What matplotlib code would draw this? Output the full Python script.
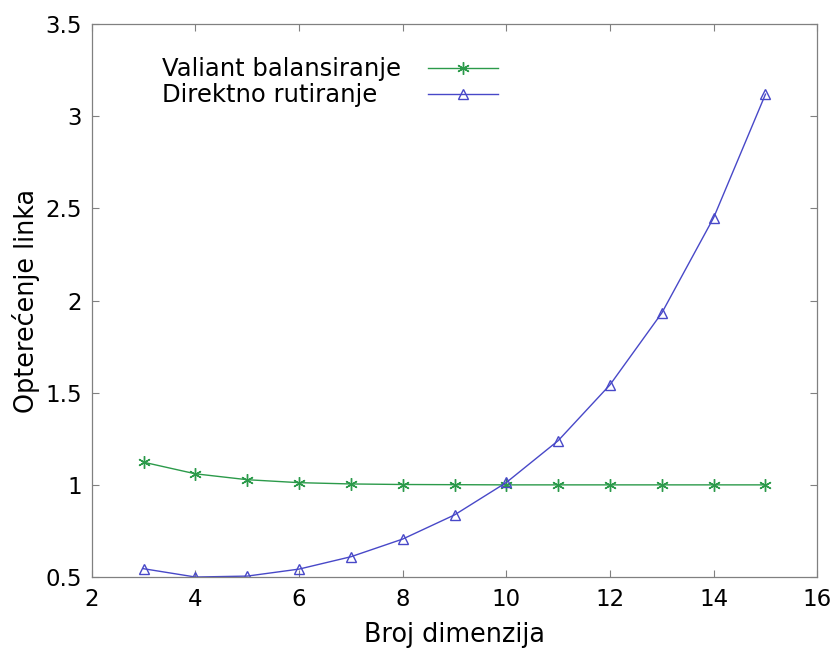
import matplotlib.pyplot as plt
from matplotlib.lines import Line2D

DIMENSIONS = [3, 4, 5, 6, 7, 8, 9, 10, 11, 12, 13, 14, 15]
VALIANT = [1.123, 1.06, 1.028, 1.012, 1.005, 1.002, 1.001, 1.0, 1.0, 1.0, 1.0, 1.0, 1.0]
DIRECT = [0.545, 0.50, 0.505, 0.543, 0.61, 0.706, 0.837, 1.013, 1.24, 1.543, 1.933, 2.45, 3.12]

LABELS = ['Valiant balansiranje', 'Direktno rutiranje']
Y_TICKS = [0.5, 1, 1.5, 2, 2.5, 3, 3.5]
Y_TICK_LABELS = ['0.5', '1', '1.5', '2', '2.5', '3', '3.5']
GREEN = '#2b9a4a'
BLUE = '#4848c8'


def main():
    plt.rcParams["font.family"] = "DejaVu Sans"

    figure = plt.figure(figsize=(8.34, 6.52), dpi=100)
    axis = figure.add_axes([0.110, 0.115, 0.870, 0.848])

    green_line, = axis.plot(DIMENSIONS, VALIANT, color=GREEN, linewidth=1.0, marker=(6, 2, 0),
                            markersize=9, markeredgewidth=1.0)
    blue_line, = axis.plot(DIMENSIONS, DIRECT, color=BLUE, linewidth=1.0, marker='^',
                           markersize=7, markerfacecolor='none', markeredgewidth=1.0)

    axis.set_xlim(2, 16)
    axis.set_ylim(0.5, 3.5)
    axis.set_xticks(range(2, 17, 2))
    axis.set_yticks(Y_TICKS)
    axis.set_yticklabels(Y_TICK_LABELS)
    axis.tick_params(direction='in', length=5, width=0.8, color='#808080',
                     top=True, right=True, labelsize=16.5)
    axis.tick_params(axis='y', pad=7)
    axis.tick_params(axis='x', pad=8)
    for spine in axis.spines.values():
        spine.set_color('#808080')
        spine.set_linewidth(0.9)

    axis.set_xlabel('Broj dimenzija', fontsize=18.4, labelpad=8)
    axis.set_ylabel('Opterećenje linka', fontsize=18.4, labelpad=4)

    # text column on the left, line samples in a second column on the right
    blank = Line2D([], [], linestyle='none')
    axis.legend([blank, blank, green_line, blue_line], LABELS + ['', ''],
                ncol=2, loc='upper left', bbox_to_anchor=(-0.007, 0.94), frameon=False,
                handlelength=2.88, handletextpad=0.2, columnspacing=1.13,
                labelspacing=0.08, borderpad=0, borderaxespad=0, fontsize=17.5)

    figure.savefig('out.png', dpi=100)


if __name__ == "__main__":
    main()
